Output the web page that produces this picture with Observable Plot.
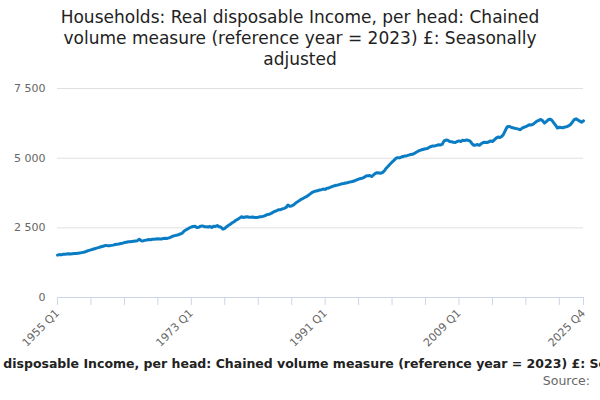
<!DOCTYPE html>
<html><head><meta charset="utf-8">
<script src="https://cdn.jsdelivr.net/npm/d3@7"></script>
<script src="https://cdn.jsdelivr.net/npm/@observablehq/plot@0.6"></script>
<style>
body{margin:0;width:600px;height:400px;overflow:hidden;font-family:"DejaVu Sans",sans-serif;background:#fff}
#title{height:75px;font-size:17px;line-height:21px;color:#222;padding-top:7px;box-sizing:border-box}
#title div{width:510px;margin:0 auto;text-align:center}
#cap{white-space:nowrap;text-align:center;font-weight:bold;font-size:12.5px;color:#222;margin-left:-296px;width:1200px;margin-top:6px}
#src{text-align:right;font-size:12.5px;color:#666;padding-right:10px;margin-top:2px}
</style></head><body>
<div id="title"><div>Households: Real disposable Income, per head: Chained volume measure (reference year = 2023) £: Seasonally adjusted</div></div>
<div id="chart"></div>
<div id="cap">Households: Real disposable Income, per head: Chained volume measure (reference year = 2023) £: Seasonally adjusted</div>
<div id="src">Source:</div>
<script>
const startYear = 1955;
// quarterly values, one row per year, 1955 to 2025
const values = [
1520,1540,1530,1550, 1550,1560,1570,1560, 1570,1580,1580,1590, 1600,1610,1620,1640,
1670,1690,1710,1730, 1750,1770,1790,1810, 1830,1850,1870,1860, 1860,1870,1880,1900,
1910,1920,1940,1950, 1970,1980,2000,2000, 2010,2020,2030,2040, 2090,2040,2030,2050,
2060,2080,2070,2090, 2090,2100,2110,2100, 2100,2120,2130,2120, 2140,2170,2200,2220,
2230,2250,2280,2300, 2380,2420,2460,2500, 2530,2550,2560,2510, 2520,2560,2570,2540,
2540,2530,2550,2510, 2560,2550,2580,2540, 2520,2450,2480,2540, 2590,2630,2680,2720,
2770,2810,2850,2900, 2870,2890,2900,2880, 2880,2890,2870,2870, 2880,2900,2900,2920,
2950,2980,2990,3020, 3060,3090,3120,3150, 3150,3180,3200,3230, 3320,3270,3290,3320,
3380,3430,3470,3520, 3550,3590,3620,3670, 3720,3770,3800,3820, 3830,3860,3870,3890,
3880,3920,3930,3960, 3990,4010,4030,4040, 4060,4080,4090,4110, 4120,4140,4150,4170,
4190,4220,4250,4270, 4280,4310,4360,4370, 4380,4340,4400,4450, 4480,4470,4460,4490,
4560,4650,4720,4790, 4860,4920,4990,5020, 5010,5040,5060,5080, 5090,5110,5130,5140,
5170,5210,5250,5280, 5300,5320,5340,5350, 5390,5420,5440,5440, 5460,5480,5470,5500,
5620,5650,5640,5600, 5590,5570,5560,5600, 5620,5600,5640,5630, 5650,5640,5610,5520,
5460,5470,5490,5460, 5520,5560,5570,5560, 5580,5620,5600,5650, 5720,5760,5740,5780,
5860,6000,6130,6140, 6110,6090,6070,6060, 6040,6020,6080,6110, 6130,6170,6200,6190,
6220,6280,6330,6360, 6390,6340,6260,6310, 6380,6400,6360,6270, 6180,6080,6110,6100,
6090,6120,6130,6160, 6210,6290,6380,6410, 6370,6330,6290,6340
];
const tickIdx = d3.range(0, 283, 18).concat([283]);
const labelIdx = [0, 72, 144, 216, 283];
const qLabel = i => `${startYear + Math.floor(i/4)} Q${i%4+1}`;
const data = values.map((v,i)=>({i, v}));
const fmt = v => d3.format(",")(v).replace(/,/g, " ");
const plot = Plot.plot({
  width:600, height:275, marginTop:13, marginBottom:53, marginLeft:57, marginRight:17,
  style:{fontFamily:"DejaVu Sans, sans-serif", fontSize:"11px", color:"#666"},
  x:{domain:[0,283], label:null},
  y:{domain:[0,7500], label:null},
  marks:[
    Plot.gridY([2500,5000,7500],{stroke:"#e0e0e0", strokeOpacity:1}),
    Plot.ruleY([0],{stroke:"#ccd6eb"}),
    Plot.axisX({ticks:tickIdx, tickFormat:i=>labelIdx.includes(i)?qLabel(i):"", tickRotate:-45, stroke:"#ccd6eb", fill:"#666", tickSize:8, label:null}),
    Plot.axisY({ticks:[0,2500,5000,7500], tickFormat:fmt, tickSize:0, tickPadding:12, label:null, fill:"#666"}),
    Plot.line(data,{x:"i", y:"v", stroke:"#0a7cc4", strokeWidth:3})
  ]
});
document.getElementById("chart").appendChild(plot);
</script>
</body></html>
